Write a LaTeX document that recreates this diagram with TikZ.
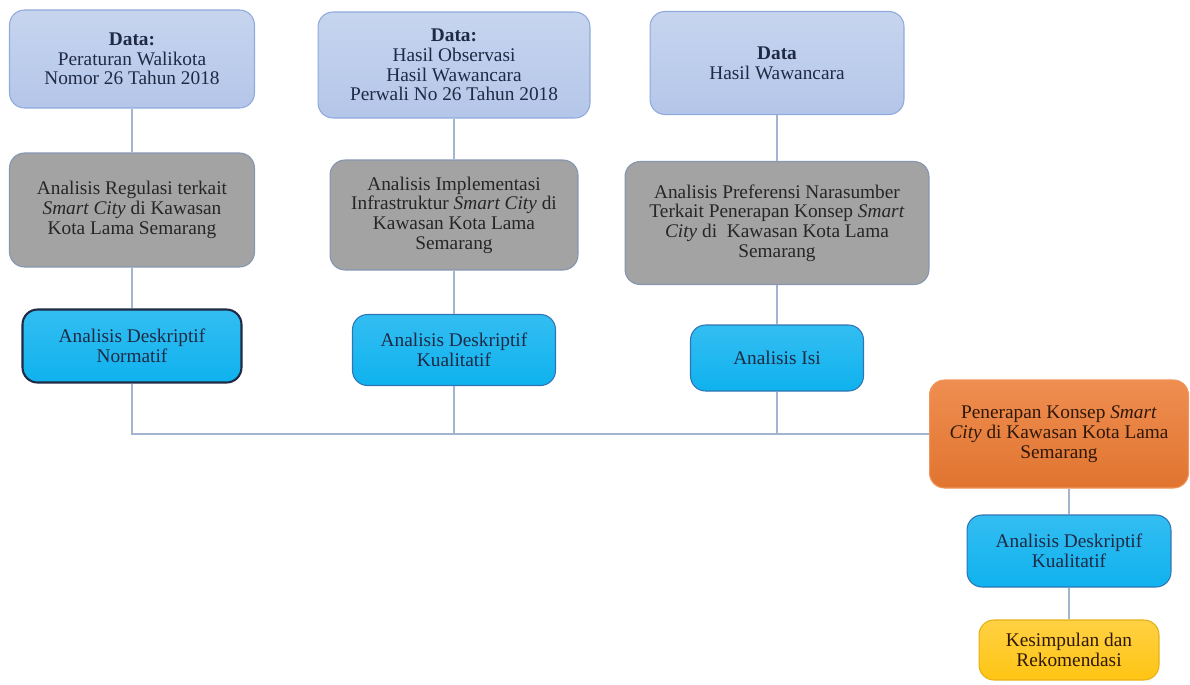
\documentclass[tikz,border=0pt]{standalone}
\usepackage{fontspec}
\setmainfont{Liberation Serif}
\definecolor{datfill}{HTML}{B4C6E9}
\definecolor{datdraw}{HTML}{8FAADC}
\definecolor{anafill}{HTML}{A3A3A3}
\definecolor{anadraw}{HTML}{8496B0}
\definecolor{metfill}{HTML}{0FB2EF}
\definecolor{metdraw}{HTML}{2E75B6}
\definecolor{orgfill}{HTML}{EC7A32}
\definecolor{yelfill}{HTML}{FFC514}
\definecolor{linkcol}{HTML}{A3B4CF}
\definecolor{navytext}{HTML}{1F2A44}
\begin{document}
\begin{tikzpicture}[x=0.02cm, y=-0.02cm,
  box/.style={rectangle, rounded corners=0.3cm, align=center, inner sep=2pt,
    font=\fontsize{11}{11.2}\selectfont, line width=0.6pt},
  datbox/.style={box, draw=datdraw, top color=datfill!75!white, bottom color=datfill, text=navytext},
  anabox/.style={box, draw=anadraw, fill=anafill, text=black!85},
  metbox/.style={box, draw=metdraw, top color=metfill!85!white, bottom color=metfill, text=navytext},
  link/.style={draw=linkcol, line width=0.7pt}]
\useasboundingbox (0,0) rectangle (1190,684);
\node[datbox, minimum width=4.9cm, minimum height=1.96cm] (dat1) at (132,59){\textbf{Data:}\\Peraturan Walikota\\Nomor 26 Tahun 2018};
\node[anabox, minimum width=4.9cm, minimum height=2.28cm] (ana1) at (132,210){Analisis Regulasi terkait\\\textit{Smart City} di Kawasan\\Kota Lama Semarang};
\node[metbox, draw=navytext, line width=1.2pt, minimum width=4.38cm, minimum height=1.46cm] (met1) at (132,346){Analisis Deskriptif\\Normatif};
\draw[link](dat1) -- (ana1);
\draw[link](ana1) -- (met1);
\node[datbox, minimum width=5.44cm, minimum height=2.12cm] (dat2) at (454,65){\textbf{Data:}\\Hasil Observasi\\Hasil Wawancara\\Perwali No 26 Tahun 2018};
\node[anabox, minimum width=4.96cm, minimum height=2.2cm] (ana2) at (454,215){Analisis Implementasi\\Infrastruktur \textit{Smart City} di\\Kawasan Kota Lama\\Semarang};
\node[metbox, minimum width=4.06cm, minimum height=1.42cm] (met2) at (454,350){Analisis Deskriptif\\Kualitatif};
\draw[link](dat2) -- (ana2);
\draw[link](ana2) -- (met2);
\node[datbox, minimum width=5.08cm, minimum height=2.06cm] (dat3) at (777,63){\textbf{Data}\\Hasil Wawancara};
\node[anabox, minimum width=6.08cm, minimum height=2.46cm] (ana3) at (777,223){Analisis Preferensi Narasumber\\Terkait Penerapan Konsep \textit{Smart}\\\textit{City} di\ \ Kawasan Kota Lama\\Semarang};
\node[metbox, minimum width=3.46cm, minimum height=1.32cm] (met3) at (777,358){Analisis Isi};
\draw[link](dat3) -- (ana3);
\draw[link](ana3) -- (met3);
\node[box, draw=orgfill!80!white, top color=orgfill!85!white, bottom color=orgfill!95!black, text=black!80!orgfill, minimum width=5.18cm, minimum height=2.16cm] (hasil) at (1059,434){Penerapan Konsep \textit{Smart}\\\textit{City} di Kawasan Kota Lama\\Semarang};
\draw[link](met1) |- (hasil);
\draw[link](met2) -- (met2 |- hasil.west);
\draw[link](met3) -- (met3 |- hasil.west);
\node[metbox, minimum width=4.08cm, minimum height=1.44cm] (met4) at (1069,551){Analisis Deskriptif\\Kualitatif};
\node[box, draw=yelfill!90!black, top color=yelfill!80!white, bottom color=yelfill, text=black!80!orgfill, minimum width=3.6cm, minimum height=1.2cm] (kes) at (1069,650){Kesimpulan dan\\Rekomendasi};
\draw[link](met4.north) -- (met4.north |- hasil.south);
\draw[link](met4) -- (kes);
\end{tikzpicture}
\end{document}
